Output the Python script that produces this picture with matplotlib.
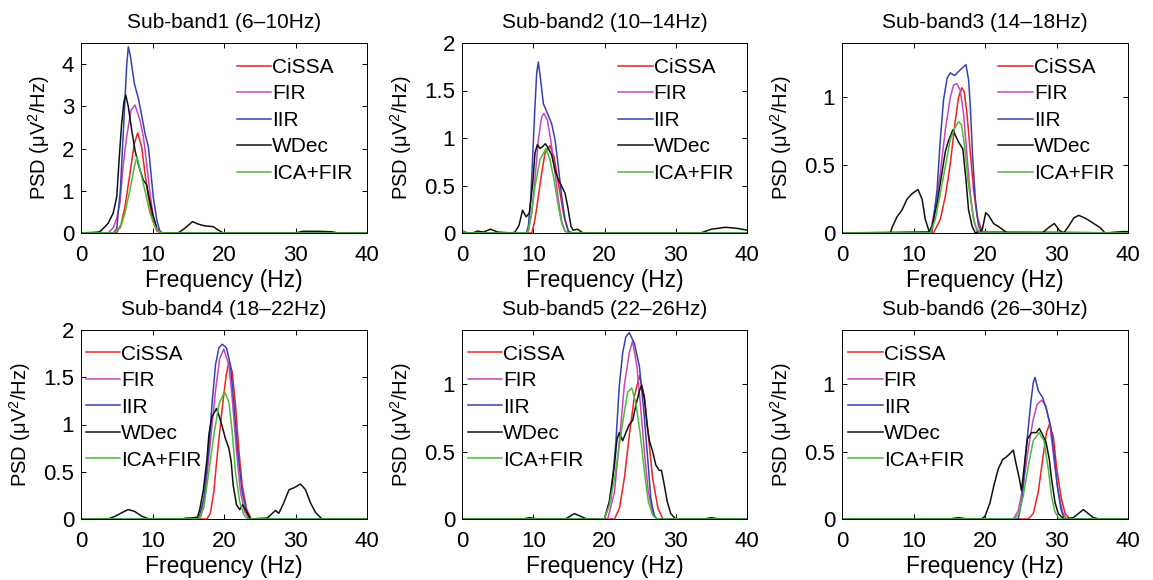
import matplotlib
matplotlib.use("Agg")
import matplotlib.pyplot as plt
from matplotlib.ticker import FuncFormatter

plt.rcParams['font.family'] = ['Liberation Sans', 'DejaVu Sans']
plt.rcParams['mathtext.fontset'] = 'custom'
plt.rcParams['mathtext.rm'] = 'Liberation Sans'
plt.rcParams['mathtext.it'] = 'Liberation Sans:italic'

METHODS = ["CiSSA", "FIR", "IIR", "WDec", "ICA+FIR"]
TITLES = ["Sub-band1 (6\u201310Hz)", "Sub-band2 (10\u201314Hz)", "Sub-band3 (14\u201318Hz)",
          "Sub-band4 (18\u201322Hz)", "Sub-band5 (22\u201326Hz)", "Sub-band6 (26\u201330Hz)"]
X_TICKS = [0, 10, 20, 30, 40]

# ---------------- Sub-band 1 ----------------
SB1_CISSA_F = [0, 1, 2, 3, 4, 5.0, 5.6, 6.15, 6.85, 7.46, 7.93, 8.48, 8.95, 9.42, 10.0, 10.6, 11.2, 40]
SB1_CISSA_P = [0, 0.01, 0.02, 0.01, 0, 0.01, 0.2, 0.62, 1.41, 2.12, 2.37, 2.04, 1.41, 0.86, 0.31, 0.05, 0, 0]
SB1_FIR_F = [0, 3.8, 4.5, 5.0, 5.45, 5.9, 6.39, 7.0, 7.55, 8.25, 8.72, 9.18, 9.65, 10.1, 10.7, 11.2, 40]
SB1_FIR_P = [0, 0, 0.12, 0.35, 0.7, 1.6, 2.28, 2.91, 3.03, 2.67, 2.28, 1.65, 0.94, 0.39, 0.05, 0, 0]
SB1_IIR_F = [0, 4.5, 5.0, 5.2, 5.5, 5.83, 6.1, 6.4, 6.62, 6.9, 7.46, 8.02, 8.48, 8.95, 9.42, 9.79, 10.1, 10.6, 11.05, 11.5, 40]
SB1_IIR_P = [0, 0, 0.1, 0.5, 1.0, 2.1, 3.0, 4.0, 4.41, 4.2, 3.54, 3.19, 2.79, 2.36, 2.04, 1.41, 0.86, 0.31, 0.03, 0, 0]
SB1_WDEC_F = [0, 1.5, 2.5, 2.9, 3.8, 4.5, 5.0, 5.36, 5.69, 6.0, 6.25, 6.62, 7.09, 7.55, 8.1, 8.72, 9.18, 9.5,
              10.0, 10.6, 11.3, 13.6, 14.5, 15.6, 16.4, 17.3, 18.5, 19.2, 19.9, 30, 31, 33, 35, 36, 40]
SB1_WDEC_P = [0, 0, 0.02, 0.07, 0.23, 0.47, 0.86, 1.81, 2.6, 3.1, 3.27, 2.99, 2.44, 1.96, 1.57, 1.25, 1.14, 0.86,
              0.47, 0.11, 0, 0, 0.11, 0.27, 0.21, 0.17, 0.15, 0.07, 0, 0, 0.04, 0.04, 0.03, 0, 0]
SB1_ICA_F = [0, 4.5, 5.5, 6.15, 6.85, 7.46, 7.83, 8.48, 9.04, 9.65, 10.35, 11.05, 11.5, 40]
SB1_ICA_P = [0, 0, 0.12, 0.47, 1.02, 1.57, 1.81, 1.33, 0.94, 0.47, 0.15, 0.02, 0, 0]

# ---------------- Sub-band 2 ----------------
SB2_CISSA_F = [0, 9.8, 10.24, 10.71, 11.18, 11.65, 12.35, 12.92, 13.29, 13.85, 14.32, 14.93, 15.4, 40]
SB2_CISSA_P = [0, 0, 0.14, 0.38, 0.63, 0.84, 0.92, 0.80, 0.63, 0.38, 0.17, 0.02, 0, 0]
SB2_FIR_F = [0, 0.5, 1.0, 9.0, 9.31, 9.78, 10.24, 10.71, 11.18, 11.5, 11.98, 12.45, 13.06, 13.52, 14.0, 14.46, 15.0, 40]
SB2_FIR_P = [0.03, 0.01, 0, 0, 0.02, 0.21, 0.56, 0.98, 1.22, 1.26, 1.19, 0.98, 0.63, 0.35, 0.12, 0.02, 0, 0]
SB2_IIR_F = [0, 9.0, 9.31, 9.64, 9.92, 10.24, 10.48, 10.71, 11.04, 11.42, 11.88, 12.59, 13.06, 13.52, 14.0, 14.46, 14.93, 15.4, 40]
SB2_IIR_P = [0, 0, 0.07, 0.35, 0.80, 1.33, 1.68, 1.80, 1.61, 1.36, 1.28, 1.15, 0.98, 0.70, 0.38, 0.14, 0.02, 0, 0]
SB2_WDEC_F = [0, 1.5, 2.2, 3.0, 4.0, 5.0, 7.0, 7.44, 8.0, 8.5, 9.0, 9.45, 9.92, 10.24, 10.57, 10.95, 11.32, 11.7,
              12.12, 12.59, 13.06, 13.52, 14.0, 14.46, 14.83, 15.3, 15.63, 16.2, 17.0, 33.5, 35, 37, 38.5, 40]
SB2_WDEC_P = [0, 0, 0.02, 0.01, 0.04, 0.01, 0, 0.01, 0.08, 0.24, 0.17, 0.21, 0.52, 0.84, 0.93, 0.89, 0.91, 0.94,
              0.89, 0.82, 0.66, 0.56, 0.49, 0.42, 0.28, 0.07, 0.03, 0.04, 0, 0, 0.04, 0.06, 0.05, 0.03]
SB2_ICA_F = [0, 9.0, 9.31, 9.78, 10.24, 10.95, 11.79, 12.35, 12.92, 13.52, 14.0, 14.46, 15.0, 40]
SB2_ICA_P = [0, 0, 0.03, 0.21, 0.49, 0.77, 0.89, 0.77, 0.56, 0.28, 0.10, 0.02, 0, 0]

# ---------------- Sub-band 3 ----------------
SB3_CISSA_F = [0, 12.8, 13.75, 14.45, 15.15, 15.85, 16.3, 16.75, 17.1, 17.48, 17.95, 18.4, 18.9, 19.6, 40]
SB3_CISSA_P = [0, 0, 0.10, 0.27, 0.51, 0.83, 1.0, 1.07, 1.04, 0.88, 0.59, 0.32, 0.12, 0.01, 0]
SB3_FIR_F = [0, 12.35, 13.05, 13.75, 14.45, 15.15, 15.6, 16.08, 16.55, 17.0, 17.5, 17.95, 18.4, 18.9, 40]
SB3_FIR_P = [0, 0, 0.20, 0.44, 0.76, 1.0, 1.09, 1.10, 1.05, 0.88, 0.56, 0.29, 0.10, 0.01, 0]
SB3_IIR_F = [0, 12.6, 13.3, 13.75, 14.2, 14.7, 15.15, 15.76, 16.3, 16.9, 17.34, 17.7, 17.95, 18.27, 18.65, 19.1, 19.6, 40]
SB3_IIR_P = [0, 0.01, 0.32, 0.69, 0.98, 1.14, 1.18, 1.16, 1.19, 1.22, 1.24, 1.13, 0.93, 0.56, 0.25, 0.05, 0, 0]
SB3_WDEC_F = [0, 6.76, 7.0, 7.7, 8.4, 9.1, 9.8, 10.63, 11.2, 11.65, 12.2, 12.6, 13.3, 14.0, 14.45, 14.9, 15.5,
              15.85, 16.3, 16.9, 17.34, 17.7, 18.2, 18.65, 19.6, 20.1, 20.5, 21.2, 22.1, 23.1, 28.0, 28.9,
              29.7, 30.4, 31.0, 31.7, 32.4, 33.1, 34.0, 35.2, 36.1, 36.8, 39.2, 40]
SB3_WDEC_P = [0, 0, 0.04, 0.12, 0.17, 0.25, 0.29, 0.32, 0.25, 0.10, 0.01, 0.05, 0.22, 0.45, 0.6, 0.68, 0.76,
              0.72, 0.67, 0.62, 0.39, 0.17, 0.05, 0, 0.02, 0.15, 0.13, 0.07, 0.04, 0, 0, 0.04,
              0.07, 0.02, 0, 0.05, 0.11, 0.13, 0.11, 0.07, 0.04, 0, 0.01, 0.01]
SB3_ICA_F = [0, 12.35, 13.05, 13.75, 14.45, 15.15, 15.85, 16.3, 16.7, 17.15, 17.6, 18.2, 18.65, 19.35, 40]
SB3_ICA_P = [0, 0, 0.10, 0.29, 0.49, 0.69, 0.78, 0.82, 0.80, 0.64, 0.39, 0.17, 0.05, 0, 0]

# ---------------- Sub-band 4 ----------------
SB4_CISSA_F = [0, 17.6, 18.1, 18.58, 19.1, 19.75, 20.3, 20.68, 21.15, 21.6, 22.1, 22.54, 23.14, 23.8, 40]
SB4_CISSA_P = [0, 0, 0.06, 0.29, 0.71, 1.17, 1.52, 1.66, 1.56, 1.21, 0.71, 0.36, 0.11, 0, 0]
SB4_FIR_F = [0, 16.3, 16.8, 17.4, 18.1, 18.8, 19.4, 19.97, 20.68, 21.15, 21.75, 22.3, 22.87, 23.5, 40]
SB4_FIR_P = [0, 0, 0.03, 0.29, 0.82, 1.35, 1.70, 1.80, 1.63, 1.28, 0.71, 0.29, 0.08, 0, 0]
SB4_IIR_F = [0, 16.0, 16.5, 17.18, 17.88, 18.35, 18.81, 19.28, 19.75, 20.35, 20.9, 21.37, 21.93, 22.54, 23.14, 23.7, 40]
SB4_IIR_P = [0, 0, 0.01, 0.22, 0.75, 1.24, 1.63, 1.81, 1.85, 1.81, 1.63, 1.24, 0.71, 0.29, 0.08, 0, 0]
SB4_WDEC_F = [0, 3.8, 4.8, 5.8, 6.6, 7.5, 8.5, 9.5, 14.0, 14.8, 15.4, 16.3, 16.6, 17.1, 17.6, 17.9, 18.3, 18.95,
              19.28, 19.75, 20.2, 20.68, 21.0, 21.28, 21.75, 22.2, 22.6, 23.14, 23.7, 26.04, 27.2, 27.67,
              28.35, 29.1, 29.77, 30.7, 31.4, 32.1, 32.8, 33.7, 40]
SB4_WDEC_P = [0, 0, 0.03, 0.07, 0.10, 0.08, 0.03, 0, 0, 0.01, 0.01, 0.02, 0.10, 0.30, 0.62, 0.90, 1.08, 1.17,
              1.10, 0.98, 0.85, 0.75, 0.61, 0.36, 0.15, 0.10, 0.15, 0.08, 0, 0.01, 0.09, 0.06,
              0.17, 0.31, 0.33, 0.37, 0.31, 0.17, 0.07, 0, 0]
SB4_ICA_F = [0, 16.5, 17.18, 17.88, 18.58, 19.28, 20.07, 20.68, 21.15, 21.6, 22.2, 22.8, 23.3, 40]
SB4_ICA_P = [0, 0, 0.12, 0.50, 0.89, 1.21, 1.35, 1.24, 0.92, 0.50, 0.18, 0.04, 0, 0]

# ---------------- Sub-band 5 ----------------
SB5_CISSA_F = [0, 21.4, 22.1, 22.78, 23.48, 24.2, 24.9, 25.6, 26.15, 26.76, 27.5, 28.2, 40]
SB5_CISSA_P = [0, 0, 0.08, 0.30, 0.62, 0.91, 1.06, 0.91, 0.62, 0.30, 0.08, 0, 0]
SB5_FIR_F = [0, 20.45, 21.4, 22.08, 22.78, 23.48, 23.95, 24.56, 25.1, 25.68, 26.15, 26.76, 27.3, 40]
SB5_FIR_P = [0, 0, 0.20, 0.57, 0.99, 1.23, 1.32, 1.13, 0.81, 0.45, 0.20, 0.05, 0, 0]
SB5_IIR_F = [0, 19.97, 20.9, 21.6, 22.08, 22.55, 23.0, 23.48, 24.2, 24.9, 25.5, 26.06, 26.5, 27.0, 27.4, 40]
SB5_IIR_P = [0, 0, 0.15, 0.57, 0.99, 1.23, 1.35, 1.38, 1.30, 1.13, 0.81, 0.45, 0.15, 0.02, 0, 0]
SB5_WDEC_F = [0, 8.5, 9.5, 10.5, 14.5, 15.8, 17.5, 20.0, 20.67, 21.4, 21.75, 22.08, 22.55, 23.0, 23.48, 23.95,
              24.4, 24.9, 25.2, 25.6, 25.97, 26.3, 26.76, 27.2, 27.7, 28.0, 28.4, 28.8, 29.3, 30.0, 34, 35, 36, 40]
SB5_WDEC_P = [0, 0, 0.01, 0, 0, 0.04, 0, 0, 0.13, 0.40, 0.59, 0.64, 0.58, 0.64, 0.70, 0.73,
              0.84, 0.95, 0.99, 0.89, 0.70, 0.58, 0.50, 0.40, 0.36, 0.36, 0.25, 0.13, 0.04, 0, 0, 0.01, 0, 0]
SB5_ICA_F = [0, 19.97, 20.67, 21.4, 22.08, 22.78, 23.25, 23.82, 24.4, 25.04, 25.6, 26.15, 26.76, 27.3, 40]
SB5_ICA_P = [0, 0, 0.10, 0.30, 0.55, 0.79, 0.94, 0.97, 0.86, 0.62, 0.35, 0.13, 0.03, 0, 0]

# ---------------- Sub-band 6 ----------------
SB6_CISSA_F = [0, 26.05, 26.75, 27.45, 28.06, 28.6, 29.0, 29.56, 30.0, 30.6, 31.2, 31.9, 40]
SB6_CISSA_P = [0, 0, 0.04, 0.20, 0.44, 0.64, 0.70, 0.61, 0.39, 0.17, 0.04, 0, 0]
SB6_FIR_F = [0, 23.95, 24.65, 25.35, 26.05, 26.75, 27.3, 27.93, 28.5, 29.1, 29.65, 30.25, 30.85, 31.4, 40]
SB6_FIR_P = [0, 0, 0.06, 0.25, 0.52, 0.74, 0.85, 0.88, 0.84, 0.69, 0.44, 0.20, 0.05, 0, 0]
SB6_IIR_F = [0, 24.65, 25.2, 25.7, 26.4, 26.75, 27.0, 27.45, 28.06, 28.6, 29.18, 29.65, 30.1, 30.6, 31.05, 40]
SB6_IIR_P = [0, 0, 0.15, 0.49, 0.86, 1.01, 1.05, 0.95, 0.90, 0.81, 0.69, 0.49, 0.25, 0.08, 0, 0]
SB6_WDEC_F = [0, 15, 16.3, 17.5, 19.5, 20.0, 20.7, 21.25, 21.85, 22.46, 23.0, 23.6, 23.96, 24.3, 24.8, 25.1,
              25.45, 25.92, 26.5, 27.2, 27.6, 27.9, 28.53, 29.0, 29.3, 29.8, 30.25, 31.0, 32.35, 33.3, 33.75,
              34.45, 35.15, 36, 40]
SB6_WDEC_P = [0, 0, 0.01, 0, 0, 0.02, 0.12, 0.25, 0.37, 0.44, 0.46, 0.49, 0.51, 0.42, 0.30, 0.21,
              0.37, 0.59, 0.64, 0.64, 0.67, 0.64, 0.57, 0.44, 0.30, 0.12, 0.04, 0, 0.01, 0.05, 0.07,
              0.04, 0.01, 0, 0]
SB6_ICA_F = [0, 23.95, 24.65, 25.35, 26.05, 26.75, 27.55, 28.25, 28.85, 29.3, 29.8, 30.4, 40]
SB6_ICA_P = [0, 0, 0.03, 0.17, 0.39, 0.58, 0.64, 0.58, 0.37, 0.17, 0.05, 0, 0]

# ---------------- styling ----------------
COLORS = ["#ee2222", "#cc44bb", "#3343b0", "#111111", "#4cbb3a"]
Y_MAX = [4.5, 2.0, 1.4, 2.0, 1.4, 1.4]
Y_TICKS = [[0, 1, 2, 3, 4], [0, 0.5, 1, 1.5, 2], [0, 0.5, 1],
           [0, 0.5, 1, 1.5, 2], [0, 0.5, 1], [0, 0.5, 1]]
LEG_X = [0.545, 0.548, 0.547, 0.017, 0.02, 0.022]

PANELS = [
    [(SB1_CISSA_F, SB1_CISSA_P), (SB1_FIR_F, SB1_FIR_P), (SB1_IIR_F, SB1_IIR_P), (SB1_WDEC_F, SB1_WDEC_P), (SB1_ICA_F, SB1_ICA_P)],
    [(SB2_CISSA_F, SB2_CISSA_P), (SB2_FIR_F, SB2_FIR_P), (SB2_IIR_F, SB2_IIR_P), (SB2_WDEC_F, SB2_WDEC_P), (SB2_ICA_F, SB2_ICA_P)],
    [(SB3_CISSA_F, SB3_CISSA_P), (SB3_FIR_F, SB3_FIR_P), (SB3_IIR_F, SB3_IIR_P), (SB3_WDEC_F, SB3_WDEC_P), (SB3_ICA_F, SB3_ICA_P)],
    [(SB4_CISSA_F, SB4_CISSA_P), (SB4_FIR_F, SB4_FIR_P), (SB4_IIR_F, SB4_IIR_P), (SB4_WDEC_F, SB4_WDEC_P), (SB4_ICA_F, SB4_ICA_P)],
    [(SB5_CISSA_F, SB5_CISSA_P), (SB5_FIR_F, SB5_FIR_P), (SB5_IIR_F, SB5_IIR_P), (SB5_WDEC_F, SB5_WDEC_P), (SB5_ICA_F, SB5_ICA_P)],
    [(SB6_CISSA_F, SB6_CISSA_P), (SB6_FIR_F, SB6_FIR_P), (SB6_IIR_F, SB6_IIR_P), (SB6_WDEC_F, SB6_WDEC_P), (SB6_ICA_F, SB6_ICA_P)],
]

W, H = 1153, 580
fig = plt.figure(figsize=(W / 100, H / 100), dpi=100)

COL_LEFT = [81, 462, 842]
COL_W = [286, 285, 286]
ROW_TOP = [43, 330]
ROW_BOT = [233, 519]

FS_TITLE = 15
FS_LEG = 15
FS_TICK = 16
FS_XLAB = 16.5
FS_YLAB = 14.5
fmt = FuncFormatter(lambda v, p: ("%g" % v))

for i in range(6):
    r, c = divmod(i, 3)
    ax = fig.add_axes([COL_LEFT[c] / W, 1 - ROW_BOT[r] / H, COL_W[c] / W, (ROW_BOT[r] - ROW_TOP[r]) / H])
    for k, (f, p) in enumerate(PANELS[i]):
        ax.plot(f, p, color=COLORS[k], lw=1.1, label=METHODS[k], solid_joinstyle='round')
    ax.set_xlim(0, 40)
    ax.set_ylim(0, Y_MAX[i])
    ax.set_xticks(X_TICKS)
    ax.set_yticks(Y_TICKS[i])
    ax.yaxis.set_major_formatter(fmt)
    ax.tick_params(direction='in', top=True, right=True, length=3.5, width=0.7,
                   labelsize=FS_TICK, colors='black')
    ax.tick_params(axis='x', pad=8.5)
    ax.tick_params(axis='y', pad=5)
    for s in ax.spines.values():
        s.set_linewidth(0.7)
    ax.set_title(TITLES[i], fontsize=FS_TITLE, pad=10.5)
    ax.set_xlabel("Frequency (Hz)", fontsize=FS_XLAB, labelpad=2)
    ax.set_ylabel("PSD (\u03bcV$^{2}$/Hz)", fontsize=FS_YLAB, labelpad=7)
    ax.legend(loc='upper left', bbox_to_anchor=(LEG_X[i], 0.922), frameon=False,
              fontsize=FS_LEG, handlelength=1.65, handletextpad=0.05, labelspacing=0.36,
              borderpad=0, borderaxespad=0)

fig.savefig("out.png", dpi=100)
